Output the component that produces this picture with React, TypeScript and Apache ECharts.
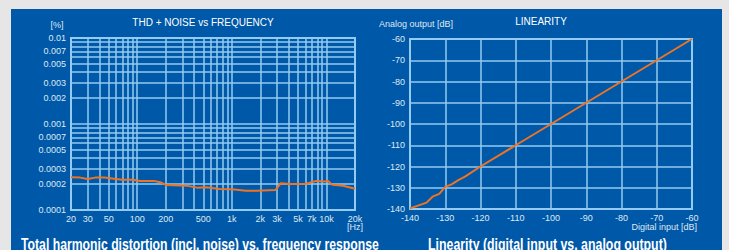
import React, { useEffect, useRef } from "react";
import * as echarts from "echarts";

// ---- THD + NOISE vs FREQUENCY ----
const thdFreq = [20, 25, 30, 36, 45, 60, 70, 90, 107, 150, 175, 205, 330, 430, 540, 740, 1000, 1400, 1800, 2100, 2900, 3300, 4100, 6100, 7800, 9600, 10400, 11500, 15000, 19000, 20000];
const thdValue = [0.00024, 0.000238, 0.00023, 0.000238, 0.000238, 0.00023, 0.000225, 0.000225, 0.000218, 0.000218, 0.00021, 0.000195, 0.000192, 0.000182, 0.000184, 0.000176, 0.000174, 0.000167, 0.000167, 0.000169, 0.000171, 0.000205, 0.0002, 0.000202, 0.000218, 0.000214, 0.000218, 0.000196, 0.000191, 0.000179, 0.000178];

const freqGrid = [20, 30, 40, 50, 60, 70, 80, 90, 100, 200, 300, 400, 500, 600, 700, 800, 900, 1000, 2000, 3000, 4000, 5000, 6000, 7000, 8000, 9000, 10000, 20000];
const freqLabels = [20, 30, 50, 100, 200, 500, 1000, 2000, 3000, 5000, 7000, 10000, 20000];
const thdGrid = [0.0001, 0.0002, 0.0003, 0.0004, 0.0005, 0.0006, 0.0007, 0.0008, 0.0009, 0.001, 0.002, 0.003, 0.004, 0.005, 0.006, 0.007, 0.008, 0.009, 0.01];
const thdLabels = [0.0001, 0.0002, 0.0003, 0.0005, 0.0007, 0.001, 0.002, 0.003, 0.005, 0.007, 0.01];

// ---- LINEARITY ----
const digitalInput = [-140, -135.3, -133.6, -131.7, -130, -128.2, -126.3, -124.4, -120, -110, -100, -90, -80, -70, -60];
const analogOutput = [-139.7, -137, -134.2, -132.9, -129.6, -128.4, -126.4, -124.8, -120, -110, -100, -90, -80, -70, -60];

const caption1 = "Total harmonic distortion (incl. noise) vs. frequency response";
const caption2 = "Linearity (digital input vs. analog output)";

const BLUE = "#0058a8";
const GRID = "#93cbf2";
const LABEL = "#dfe9f3";
const ORANGE = "#f07322";
const CAP_FONT = 'bold 17px "Liberation Sans Narrow", "Liberation Sans", Arial, sans-serif';

function measure(text: string): number {
  const c = document.createElement("canvas").getContext("2d");
  if (!c) return 1;
  c.font = CAP_FONT;
  return c.measureText(text).width;
}

function fmtFreq(v: number): string {
  const n = Math.round(v);
  return n >= 1000 ? `${Math.round(n / 1000)}k` : `${n}`;
}

export default function App() {
  const ref = useRef<HTMLDivElement>(null);
  useEffect(() => {
    if (!ref.current) return;
    const chart = echarts.init(ref.current, undefined, { renderer: "svg" });
    const s1 = 358 / measure(caption1);
    const s2 = 239 / measure(caption2);
    const labelFont = { color: LABEL, fontSize: 9, fontFamily: "Liberation Sans, Arial, sans-serif" };
    const split = { show: true, lineStyle: { color: GRID, width: 1.5 } };
    chart.setOption({
      animation: false,
      backgroundColor: "#e6e6e6",
      graphic: [
        { type: "rect", z: -10, shape: { x: 11, y: 9, width: 711, height: 250 }, style: { fill: BLUE } },
        { type: "text", x: 203, y: 22, style: { text: "THD + NOISE vs FREQUENCY", fill: "#ffffff", font: '10px "Liberation Sans", Arial', textAlign: "center", textVerticalAlign: "middle" } },
        { type: "text", x: 57, y: 25, style: { text: "[%]", fill: LABEL, font: '9px "Liberation Sans", Arial', textAlign: "center", textVerticalAlign: "middle" } },
        { type: "text", x: 355, y: 227, style: { text: "[Hz]", fill: LABEL, font: '9px "Liberation Sans", Arial', textAlign: "center", textVerticalAlign: "middle" } },
        { type: "text", x: 541, y: 21, style: { text: "LINEARITY", fill: "#ffffff", font: '10px "Liberation Sans", Arial', textAlign: "center", textVerticalAlign: "middle" } },
        { type: "text", x: 379, y: 24, style: { text: "Analog output [dB]", fill: LABEL, font: '9px "Liberation Sans", Arial', textAlign: "left", textVerticalAlign: "middle" } },
        { type: "text", x: 697, y: 227, style: { text: "Digital input [dB]", fill: LABEL, font: '9px "Liberation Sans", Arial', textAlign: "right", textVerticalAlign: "middle" } },
        { type: "text", x: 21, y: 244, scaleX: s1, style: { text: caption1, fill: "#ffffff", font: CAP_FONT, textAlign: "left", textVerticalAlign: "middle" } },
        { type: "text", x: 428, y: 244, scaleX: s2, style: { text: caption2, fill: "#ffffff", font: CAP_FONT, textAlign: "left", textVerticalAlign: "middle" } },
      ],
      grid: [
        { left: 71, top: 38, width: 284, height: 172, show: true, borderColor: GRID, borderWidth: 2, backgroundColor: "transparent" },
        { left: 410, top: 39, width: 282, height: 170, show: true, borderColor: GRID, borderWidth: 2, backgroundColor: "transparent" },
      ],
      xAxis: [
        {
          type: "log", logBase: 10, gridIndex: 0, min: 20, max: 20000,
          axisLine: { show: false }, axisTick: { show: false, customValues: freqGrid },
          axisLabel: { ...labelFont, margin: 4, customValues: freqLabels, formatter: (v: number) => fmtFreq(v), showMinLabel: true, showMaxLabel: true },
          splitLine: split, minorSplitLine: { show: false },
        },
        {
          type: "value", gridIndex: 1, min: -140, max: -60, interval: 10,
          axisLine: { show: false }, axisTick: { show: false },
          axisLabel: { ...labelFont, margin: 4 },
          splitLine: split,
        },
      ],
      yAxis: [
        {
          type: "log", logBase: 10, gridIndex: 0, min: 0.0001, max: 0.01,
          axisLine: { show: false }, axisTick: { show: false, customValues: thdGrid },
          axisLabel: { ...labelFont, margin: 5, customValues: thdLabels, formatter: (v: number) => String(+v.toPrecision(4)), showMinLabel: true, showMaxLabel: true },
          splitLine: split,
        },
        {
          type: "value", gridIndex: 1, min: -140, max: -60, interval: 10,
          axisLine: { show: false }, axisTick: { show: false },
          axisLabel: { ...labelFont, margin: 5 },
          splitLine: split,
        },
      ],
      series: [
        {
          type: "line", xAxisIndex: 0, yAxisIndex: 0, showSymbol: false, symbol: "none",
          lineStyle: { color: ORANGE, width: 2 },
          data: thdFreq.map((f, i) => [f, thdValue[i]]),
        },
        {
          type: "line", xAxisIndex: 1, yAxisIndex: 1, showSymbol: false, symbol: "none",
          lineStyle: { color: ORANGE, width: 2 },
          data: digitalInput.map((x, i) => [x, analogOutput[i]]),
        },
      ],
    });
    return () => chart.dispose();
  }, []);
  return <div ref={ref} style={{ position: "fixed", left: 0, top: 0, width: 729, height: 250 }} />;
}
